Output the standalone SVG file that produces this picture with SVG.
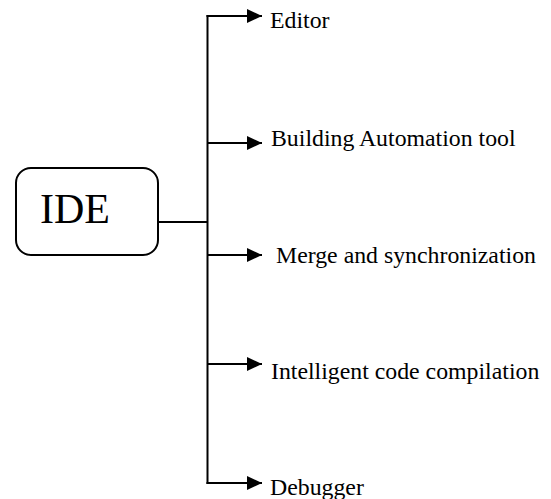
<svg xmlns="http://www.w3.org/2000/svg" width="551" height="499" viewBox="0 0 551 499">
<style>
.lbl{font-family:"Liberation Serif","Times New Roman",serif;font-size:23.8px;fill:#000}
.ln{stroke:#000;stroke-width:2;fill:none}
</style>
<defs>
<marker id="ah" markerUnits="userSpaceOnUse" markerWidth="16" markerHeight="14" refX="15" refY="7" orient="auto">
<path d="M0,0 L15,7 L0,14 Z" fill="#000"/>
</marker>
</defs>
<rect width="551" height="499" fill="#fff"/>
<g id="ide">
<rect x="16" y="168" width="142" height="87" rx="15" ry="15" fill="#fff" stroke="#000" stroke-width="2"/>
<text x="40" y="223" style="font-family:'Liberation Serif','Times New Roman',serif;font-size:42px">IDE</text>
</g>
<g id="connectors">
<line class="ln" x1="158" y1="222" x2="207.5" y2="222" stroke-width="1.5"/>
<line class="ln" x1="207.5" y1="15" x2="207.5" y2="484"/>
<line class="ln" x1="206.5" y1="16" x2="262" y2="16" marker-end="url(#ah)"/>
<line class="ln" x1="207.5" y1="143" x2="262" y2="143" marker-end="url(#ah)"/>
<line class="ln" x1="207.5" y1="255" x2="262" y2="255" marker-end="url(#ah)"/>
<line class="ln" x1="207.5" y1="364" x2="262" y2="364" marker-end="url(#ah)"/>
<line class="ln" x1="206.5" y1="483" x2="262" y2="483" marker-end="url(#ah)"/>
</g>
<g id="editor"><text class="lbl" x="270" y="28">Editor</text></g>
<g id="building"><text class="lbl" x="271" y="146">Building Automation tool</text></g>
<g id="merge"><text class="lbl" x="276" y="262.5">Merge and synchronization</text></g>
<g id="intelligent"><text class="lbl" x="271" y="379">Intelligent code compilation</text></g>
<g id="debugger"><text class="lbl" x="270" y="495">Debugger</text></g>
</svg>
